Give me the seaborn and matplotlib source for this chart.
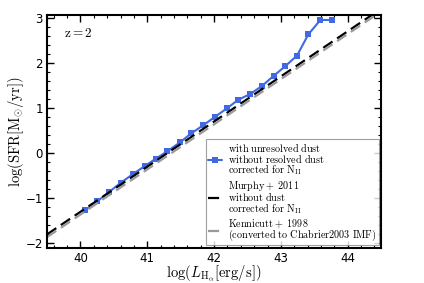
import numpy as np
import pandas as pd
import matplotlib
matplotlib.use('Agg')
import matplotlib.pyplot as plt
import seaborn as sns
from matplotlib.ticker import MultipleLocator

# values
log_lha = [40.07, 40.25, 40.42, 40.60, 40.78, 40.96, 41.13, 41.30, 41.49, 41.66, 41.84,
           42.01, 42.19, 42.36, 42.54, 42.71, 42.89, 43.06, 43.24, 43.41, 43.59, 43.76]
log_sfr = [-1.27, -1.07, -0.87, -0.66, -0.47, -0.29, -0.12, 0.04, 0.24, 0.44, 0.62,
           0.80, 0.99, 1.18, 1.31, 1.48, 1.71, 1.92, 2.16, 2.63, 2.95, 2.95]
line_x = [39.5, 44.5]
murphy_y = [-1.80, 3.20]
kennicutt_y = [-1.86, 3.14]

labels = [
    r'$\mathrm{with\ unresolved\ dust}$' + '\n' + r'$\mathrm{without\ resolved\ dust}$'
    + '\n' + r'$\mathrm{corrected\ for\ N_{II}}$',
    r'$\mathrm{Murphy+\ 2011}$' + '\n' + r'$\mathrm{without\ dust}$'
    + '\n' + r'$\mathrm{corrected\ for\ N_{II}}$',
    r'$\mathrm{Kennicutt+\ 1998}$' + '\n' + r'$\mathrm{(converted\ to\ Chabrier2003\ IMF)}$',
]

sns.set_style('ticks')
plt.rcParams['mathtext.fontset'] = 'cm'
plt.rcParams['font.family'] = ['DejaVu Sans']
plt.rcParams['text.color'] = 'black'
plt.rcParams['xtick.color'] = 'black'
plt.rcParams['ytick.color'] = 'black'
plt.rcParams['axes.labelcolor'] = 'black'
plt.rcParams['axes.edgecolor'] = 'black'

fig = plt.figure(figsize=(4.24, 2.83), dpi=100)
ax = fig.add_axes([0.111, 0.124, 0.788, 0.823])

df = pd.DataFrame({'x': log_lha, 'y': log_sfr})
sns.lineplot(data=df, x='x', y='y', ax=ax, color='#4169e1', marker='s', markersize=5,
             markeredgewidth=0, linewidth=1.5, label=labels[0])
sns.lineplot(x=line_x, y=murphy_y, ax=ax, color='black', linewidth=1.6,
             dashes=(5, 2.5), label=labels[1])
sns.lineplot(x=line_x, y=kennicutt_y, ax=ax, color='#999999', linewidth=1.6,
             dashes=(5, 2.5), label=labels[2])

ax.set_xlim(39.5, 44.5)
ax.set_ylim(-2.1, 3.06)
ax.xaxis.set_major_locator(MultipleLocator(1))
ax.xaxis.set_minor_locator(MultipleLocator(0.2))
ax.yaxis.set_major_locator(MultipleLocator(1))
ax.yaxis.set_minor_locator(MultipleLocator(0.2))
ax.tick_params(which='both', direction='in', top=True, right=True, labelsize=8.5, pad=3)
ax.tick_params(which='major', length=5, width=1)
ax.tick_params(which='minor', length=2.5, width=0.8)
for s in ax.spines.values():
    s.set_linewidth(1.5)

ax.set_xlabel(r'$\mathrm{log(}L_{\mathrm{H_{\alpha}}}\mathrm{[erg/s])}$', fontsize=10.5, labelpad=-1)
ax.set_ylabel(r'$\mathrm{log(SFR[M_{\odot}/yr])}$', fontsize=10.5, labelpad=0)
ax.text(0.05, 0.92, r'$\mathrm{z=2}$', transform=ax.transAxes, fontsize=9.5, va='center')

leg = ax.legend(loc='lower right', prop={'size': 7.3}, handlelength=1.4,
                handletextpad=0.5, borderaxespad=0.25, fancybox=False, frameon=True,
                labelspacing=0.15, borderpad=0.25)
for t in leg.get_texts():
    t.set_linespacing(0.78)
leg.get_frame().set_edgecolor('#888888')
leg.get_frame().set_linewidth(0.8)

fig.savefig('out.png', dpi=100)
